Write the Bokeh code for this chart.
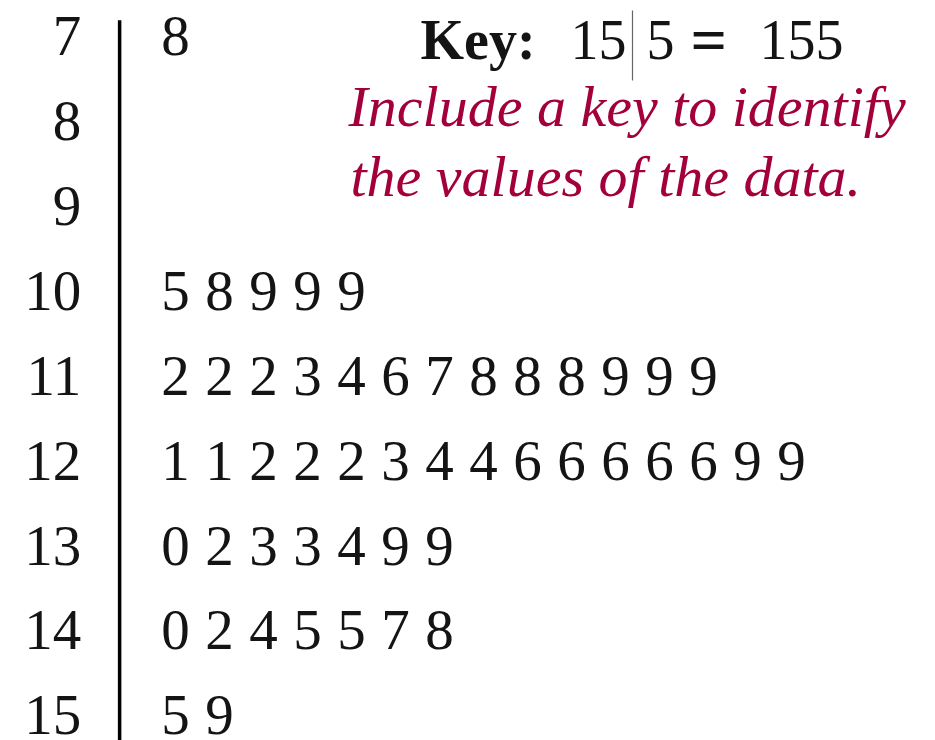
from bokeh.plotting import figure
from bokeh.models import ColumnDataSource, Range1d, Label
from bokeh.core.properties import value
from bokeh.embed import file_html
from bokeh.resources import INLINE

# Stem-and-leaf data
stems = [7, 8, 9, 10, 11, 12, 13, 14, 15]
leaves = [
    [8],
    [],
    [],
    [5, 8, 9, 9, 9],
    [2, 2, 2, 3, 4, 6, 7, 8, 8, 8, 9, 9, 9],
    [1, 1, 2, 2, 2, 3, 4, 4, 6, 6, 6, 6, 6, 9, 9],
    [0, 2, 3, 3, 4, 9, 9],
    [0, 2, 4, 5, 5, 7, 8],
    [5, 9],
]
key_stem, key_leaf = 15, 5
key_value = key_stem * 10 + key_leaf
note_lines = ["Include a key to identify", "the values of the data."]

W, H = 935, 740
SERIF = "Liberation Serif"
INK = "#141414"
NOTE = "#A3003B"

Y_TOP, Y_BOT = 6.578, 15.296
PX_PER_ROW = H / (Y_BOT - Y_TOP)

# x: one unit per leaf slot; y: one unit per stem (top to bottom)
p = figure(width=W, height=H, output_backend="svg", toolbar_location=None,
           x_range=Range1d(-175 / 44, (W - 175) / 44),
           y_range=Range1d(Y_BOT, Y_TOP),
           min_border=0, outline_line_color=None)
p.axis.visible = False
p.grid.visible = False
p.background_fill_color = "white"
p.border_fill_color = "white"

STEM_X = -2.14
BAR_X = -1.27

stem_src = ColumnDataSource(dict(x=[STEM_X] * len(stems), y=stems,
                                 t=[str(s) for s in stems]))
p.text(x="x", y="y", text="t", source=stem_src, text_align="right",
       text_baseline="middle", text_font=value(SERIF), text_font_size="57px",
       text_color=INK)

lx, ly, lt = [], [], []
for s, lv in zip(stems, leaves):
    for i, d in enumerate(lv):
        lx.append(i)
        ly.append(s)
        lt.append(str(d))
leaf_src = ColumnDataSource(dict(x=lx, y=ly, t=lt))
p.text(x="x", y="y", text="t", source=leaf_src, text_align="center",
       text_baseline="middle", text_font=value(SERIF), text_font_size="57px",
       text_color=INK)

# divider between stems and leaves
p.segment(x0=[BAR_X], y0=[stems[0] - 0.19], x1=[BAR_X], y1=[stems[-1] + 0.6],
          line_color="black", line_width=3.5)

# key and note, placed by screen position (y measured from the top)
def lab(x, y, text, **kw):
    opts = dict(x=x, y=H - y, x_units="screen", y_units="screen", text=text,
                text_font=SERIF, text_font_size="56px", text_color=INK,
                text_baseline="alphabetic")
    opts.update(kw)
    p.add_layout(Label(**opts))

lab(420, 39, "Key:", text_font_style="bold")
lab(570, 39, str(key_stem))
lab(646, 39, str(key_leaf))
lab(690, 40, "=", text_font_style="bold", text_font_size="64px")
lab(759, 39, str(key_value))
p.segment(x0=[(632 - 175) / 44], y0=[Y_TOP + 10 / PX_PER_ROW],
          x1=[(632 - 175) / 44], y1=[Y_TOP + 80 / PX_PER_ROW],
          line_color="#666666", line_width=1.2)

lab(348, 106, note_lines[0], text_font_style="italic", text_font_size="58px",
    text_color=NOTE)
lab(350, 176, note_lines[1], text_font_style="italic", text_font_size="58px",
    text_color=NOTE)

open("out.html", "w").write(file_html(p, INLINE))
